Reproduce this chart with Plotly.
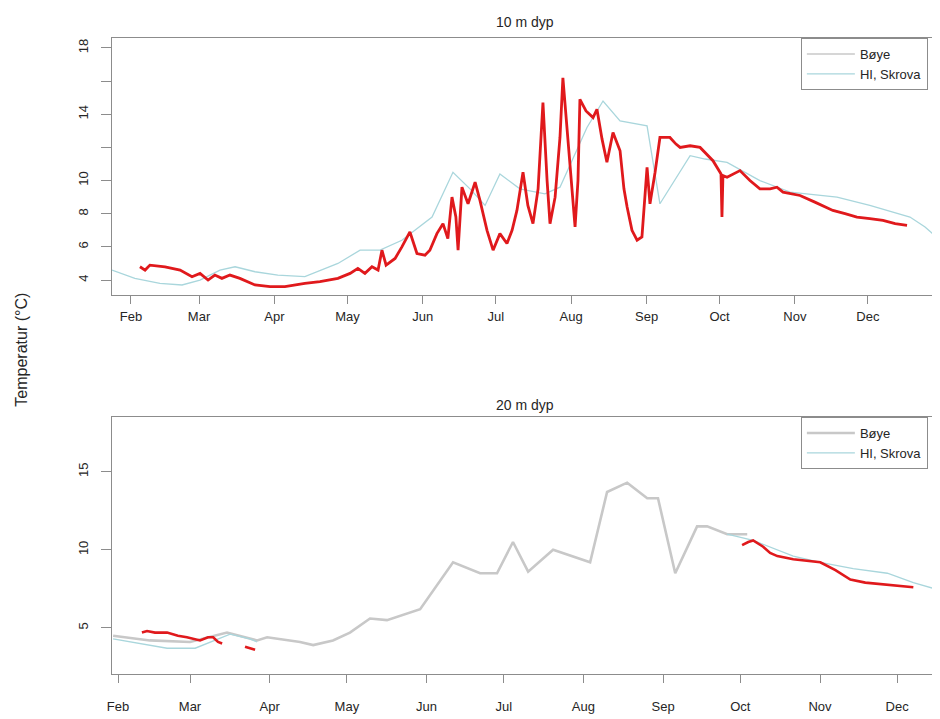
import datetime as dt
import plotly.graph_objects as go

YEAR = 2015

# ---------------- data (day-of-year, temperature °C) ----------------
# 10 m: buoy, high-resolution (red)
red10_doy = [35.7, 37.8, 39.8, 46.0, 52.2, 57.1, 60.4, 63.7, 66.5, 69.4, 72.7, 76.8, 83.0, 89.2,
             95.3, 103.5, 109.7, 117.1, 122.1, 125.3, 128.2, 131.1, 133.6, 135.2, 136.9, 140.6,
             143.4, 146.7, 149.6, 152.9, 154.9, 157.8, 160.3, 162.3, 164.0, 165.6, 166.5, 168.1,
             170.6, 173.5, 175.5, 178.4, 180.9, 183.7, 186.6, 188.7, 190.7, 193.2, 195.2, 197.3,
             199.4, 201.4, 203.1, 204.3, 206.4, 208.4, 209.6, 211.3, 213.8, 214.6, 215.8, 216.6,
             219.1, 222.0, 223.6, 225.7, 227.7, 230.2, 233.1, 234.7, 236.0, 238.0, 240.1, 242.1,
             244.2, 245.4, 247.5, 249.5, 253.6, 256.1, 257.8, 261.9, 266.0, 269.3, 271.3, 274.2,
             274.6, 275.0, 275.4, 277.1, 279.5, 282.4, 286.5, 290.6, 294.8, 297.6, 300.1, 303.0,
             307.1, 313.2, 320.6, 325.6, 330.5, 335.8, 341.2, 346.2, 351.1]
red10_val = [4.8, 4.6, 4.9, 4.8, 4.6, 4.2, 4.4, 4.0, 4.3, 4.1, 4.3, 4.1, 3.7, 3.6,
             3.6, 3.8, 3.9, 4.1, 4.4, 4.7, 4.4, 4.8, 4.6, 5.8, 4.9, 5.3,
             6.0, 6.9, 5.6, 5.5, 5.8, 6.8, 7.4, 6.5, 9.0, 7.8, 5.8, 9.6,
             8.6, 9.9, 8.8, 7.0, 5.8, 6.8, 6.2, 7.0, 8.2, 10.5, 8.5, 7.4,
             9.5, 14.7, 10.0, 7.4, 9.0, 12.6, 16.2, 13.0, 8.4, 7.2, 10.0, 14.9,
             14.2, 13.8, 14.3, 12.5, 11.1, 12.9, 11.8, 9.5, 8.4, 7.0, 6.4, 6.6,
             10.8, 8.6, 10.5, 12.6, 12.6, 12.2, 12.0, 12.1, 12.0, 11.5, 11.2, 10.5,
             10.4, 7.8, 10.3, 10.2, 10.4, 10.6, 10.0, 9.5, 9.5, 9.6, 9.3, 9.2,
             9.1, 8.7, 8.2, 8.0, 7.8, 7.7, 7.6, 7.4, 7.3]

# 10 m: HI, Skrova (light blue)
sk10_doy = [24.2, 33.6, 43.9, 53.0, 60.4, 68.6, 74.8, 83.0, 92.4, 103.5, 117.1, 126.2, 134.4,
            143.4, 155.8, 164.4, 171.4, 177.6, 183.7, 191.9, 202.2, 208.4, 219.5, 226.1, 233.1,
            244.2, 249.5, 261.9, 268.1, 277.1, 290.6, 303.0, 322.3, 335.8, 352.3, 358.5, 364.7]
sk10_val = [4.6, 4.1, 3.8, 3.7, 4.0, 4.6, 4.8, 4.5, 4.3, 4.2, 5.0, 5.8, 5.8,
            6.4, 7.8, 10.5, 9.5, 8.5, 10.4, 9.5, 9.2, 9.6, 13.2, 14.8, 13.6,
            13.3, 8.6, 11.5, 11.3, 11.1, 10.0, 9.3, 9.0, 8.5, 7.8, 7.2, 6.4]

# 10 m: Bøye daily series (not visible under the red record; legend entry only)
by10_doy = [None]
by10_val = [None]

# 20 m: Bøye (grey)
by20_doy = [30.1, 44.4, 60.0, 74.4, 86.1, 90.0, 102.8, 107.9, 115.6, 122.2, 130.0, 136.6, 149.5,
            162.3, 172.8, 179.4, 185.6, 191.5, 201.2, 215.6, 222.2, 230.0, 237.8, 242.0, 248.7,
            257.2, 261.1, 268.9, 276.7]
by20_val = [4.5, 4.2, 4.1, 4.7, 4.2, 4.4, 4.1, 3.9, 4.2, 4.7, 5.6, 5.5, 6.2,
            9.2, 8.5, 8.5, 10.5, 8.6, 10.0, 9.2, 13.7, 14.3, 13.3, 13.3, 8.5,
            11.5, 11.5, 11.0, 11.0]

# 20 m: HI, Skrova (light blue), two periods
sk20_doy = [30.1, 40.6, 51.1, 62.0, 69.7, 75.6, 83.3, 86.1, None,
            268.9, 279.0, 294.6, 305.1, 317.9, 331.2, 341.3, 351.8]
sk20_val = [4.3, 4.0, 3.7, 3.7, 4.2, 4.6, 4.3, 4.1, None,
            11.0, 10.6, 9.6, 9.2, 8.8, 8.5, 7.9, 7.4]

# 20 m: buoy high-resolution (red), with gaps
red20_doy = [41.3, 43.3, 46.4, 51.1, 55.3, 58.8, 63.9, 67.0, 69.0, 70.9, 72.5, None,
             81.4, 85.3, None,
             274.7, 277.1, 279.0, 281.0, 282.9, 285.6, 288.4, 294.6, 299.3, 305.1, 311.0,
             316.8, 322.6, 328.5, 334.3, 341.3]
red20_val = [4.7, 4.8, 4.7, 4.7, 4.5, 4.4, 4.2, 4.4, 4.4, 4.1, 4.0, None,
             3.8, 3.6, None,
             10.3, 10.5, 10.6, 10.4, 10.2, 9.8, 9.6, 9.4, 9.3, 9.2, 8.7,
             8.1, 7.9, 7.8, 7.7, 7.6]

month_labels = ["Feb", "Mar", "Apr", "May", "Jun", "Jul", "Aug", "Sep", "Oct", "Nov", "Dec"]
month_nums = [2, 3, 4, 5, 6, 7, 8, 9, 10, 11, 12]

y10_ticks = [4, 6, 8, 10, 12, 14, 16, 18]
y10_text = ["4", "6", "8", "10", "", "14", "", "18"]
y20_ticks = [5, 10, 15]
y20_text = ["5", "10", "15"]


def to_dates(doys):
    base = dt.datetime(YEAR, 1, 1)
    return [None if d is None else base + dt.timedelta(days=d - 1) for d in doys]


RED = "#e0191c"
GREY = "#c8c8c8"
CYAN = "#a9d6dc"
FONT = "Liberation Sans, Arial, sans-serif"
TXT = "#262626"

fig = go.Figure()

# ---- top panel (10 m)
fig.add_trace(go.Scatter(x=to_dates(by10_doy), y=by10_val, mode="lines", name="Bøye",
                         line=dict(color=GREY, width=1.5), xaxis="x", yaxis="y", legend="legend"))
fig.add_trace(go.Scatter(x=to_dates(sk10_doy), y=sk10_val, mode="lines", name="HI, Skrova",
                         line=dict(color=CYAN, width=1.3), xaxis="x", yaxis="y", legend="legend"))
fig.add_trace(go.Scatter(x=to_dates(red10_doy), y=red10_val, mode="lines", showlegend=False,
                         line=dict(color=RED, width=2.8), xaxis="x", yaxis="y"))

# ---- bottom panel (20 m)
fig.add_trace(go.Scatter(x=to_dates(by20_doy), y=by20_val, mode="lines", name="Bøye",
                         line=dict(color=GREY, width=2.6), xaxis="x2", yaxis="y2", legend="legend2"))
fig.add_trace(go.Scatter(x=to_dates(sk20_doy), y=sk20_val, mode="lines", name="HI, Skrova",
                         line=dict(color=CYAN, width=1.3), xaxis="x2", yaxis="y2", legend="legend2",
                         connectgaps=False))
fig.add_trace(go.Scatter(x=to_dates(red20_doy), y=red20_val, mode="lines", showlegend=False,
                         line=dict(color=RED, width=2.6), xaxis="x2", yaxis="y2", connectgaps=False))

month_ticks = [dt.datetime(YEAR, m, 1) for m in month_nums]

axis_common = dict(showline=True, linecolor="#8c8c8c", linewidth=1, mirror=True,
                   showgrid=False, zeroline=False, ticks="outside", ticklen=8,
                   tickcolor="#8c8c8c", tickfont=dict(size=13, color=TXT, family=FONT))

legend_common = dict(bgcolor="white", bordercolor="#8c8c8c", borderwidth=1,
                     font=dict(size=13, color=TXT, family=FONT),
                     xanchor="left", yanchor="top", tracegroupgap=0, itemwidth=48)

# The page body adds an 8 px offset, so the figure is 8 px smaller and margins shifted.
fig.update_layout(
    width=932, height=711,
    margin=dict(l=104, r=3, t=30, b=45),
    paper_bgcolor="white", plot_bgcolor="white",
    font=dict(family=FONT, color=TXT),
    xaxis=dict(axis_common, type="date", domain=[0, 1], anchor="y",
               range=["2015-01-24 05:00", "2015-12-29 10:00"],
               tickvals=month_ticks, ticktext=month_labels, ticklabelstandoff=1),
    yaxis=dict(axis_common, domain=[0.596, 1], anchor="x", range=[3.1, 18.6],
               tickvals=y10_ticks, ticktext=y10_text, tickangle=-90, ticklen=10,
               ticklabelstandoff=8),
    xaxis2=dict(axis_common, type="date", domain=[0, 1], anchor="y2",
                range=["2015-01-29 16:00", "2015-12-16 12:00"],
                tickvals=month_ticks, ticktext=month_labels, ticklabelstandoff=12,
                ticklabeloverflow="allow"),
    yaxis2=dict(axis_common, domain=[0, 0.404], anchor="x2", range=[2.05, 18.5],
                tickvals=y20_ticks, ticktext=y20_text, tickangle=-90, ticklen=10,
                ticklabelstandoff=8),
    legend=dict(legend_common, x=0.835, y=1.0),
    legend2=dict(legend_common, x=0.835, y=0.404),
    annotations=[
        dict(text="10 m dyp", x=0.5, y=1.0, xref="paper", yref="paper", yanchor="bottom",
             yshift=6, showarrow=False, font=dict(size=14, color=TXT, family=FONT)),
        dict(text="20 m dyp", x=0.5, y=0.404, xref="paper", yref="paper", yanchor="bottom",
             yshift=2, showarrow=False, font=dict(size=14, color=TXT, family=FONT)),
        dict(text="Temperatur (°C)", x=-0.109, y=0.51, xref="paper", yref="paper",
             xanchor="center", yanchor="middle",
             textangle=-90, showarrow=False, font=dict(size=16, color=TXT, family=FONT)),
    ],
)

fig.write_html("out.html")
